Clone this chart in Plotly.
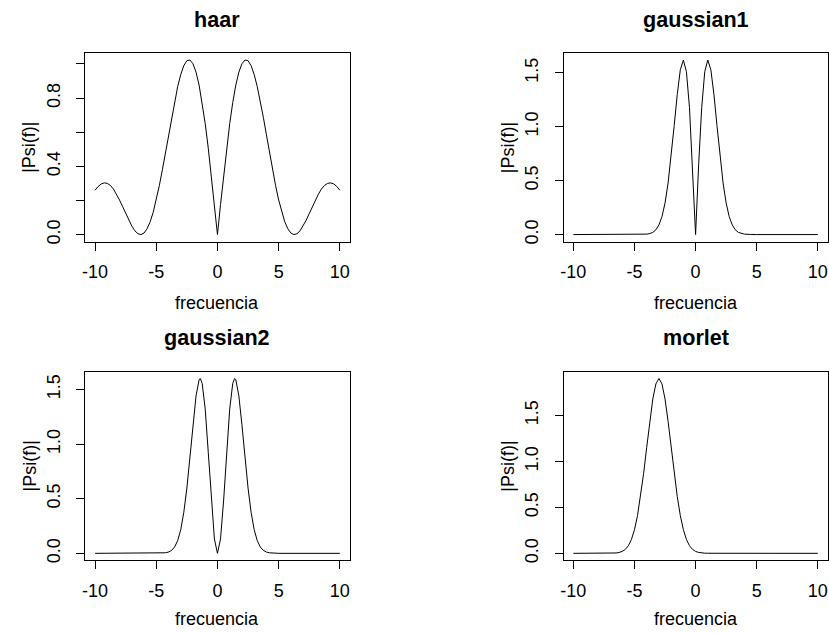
import plotly.graph_objects as go

FONT = "Liberation Sans, Arial, Helvetica, sans-serif"

# |Psi(f)| modulus of each wavelet's Fourier transform, sampled over frequency

haar_freq = [-10, -9.75, -9.5, -9.25, -9, -8.75, -8.5, -8.25, -8, -7.75, -7.5, -7.25,
             -7, -6.75, -6.5, -6.25, -6, -5.75, -5.5, -5.25, -5, -4.75, -4.5, -4.25,
             -4, -3.75, -3.5, -3.25, -3, -2.75, -2.5, -2.25, -2, -1.75, -1.5, -1.25,
             -1, -0.75, -0.5, -0.25, 0, 0.25, 0.5, 0.75, 1, 1.25, 1.5, 1.75, 2, 2.25,
             2.5, 2.75, 3, 3.25, 3.5, 3.75, 4, 4.25, 4.5, 4.75, 5, 5.25, 5.5, 5.75, 6,
             6.25, 6.5, 6.75, 7, 7.25, 7.5, 7.75, 8, 8.25, 8.5, 8.75, 9, 9.25, 9.5,
             9.75, 10]
haar_mod = [0.260, 0.282, 0.297, 0.303, 0.300, 0.288, 0.267, 0.237, 0.202, 0.164, 0.123,
            0.084, 0.050, 0.022, 0.005, 0.000, 0.009, 0.034, 0.075, 0.131, 0.203, 0.287,
            0.381, 0.481, 0.585, 0.687, 0.782, 0.868, 0.938, 0.990, 1.019, 1.023, 1.001,
            0.952, 0.876, 0.774, 0.650, 0.506, 0.346, 0.176, 0.000, 0.176, 0.346, 0.506,
            0.650, 0.774, 0.876, 0.952, 1.001, 1.023, 1.019, 0.990, 0.938, 0.868, 0.782,
            0.687, 0.585, 0.481, 0.381, 0.287, 0.203, 0.131, 0.075, 0.034, 0.009, 0.000,
            0.005, 0.022, 0.050, 0.084, 0.123, 0.164, 0.202, 0.237, 0.267, 0.288, 0.300,
            0.303, 0.297, 0.282, 0.260]

gauss1_freq = [-10, -5, -4.5, -4, -3.75, -3.5, -3.25, -3, -2.75, -2.5, -2.25, -2, -1.75,
               -1.5, -1.25, -1, -0.75, -0.5, -0.25, 0, 0.25, 0.5, 0.75, 1, 1.25, 1.5,
               1.75, 2, 2.25, 2.5, 2.75, 3, 3.25, 3.5, 3.75, 4, 4.5, 5, 10]
gauss1_mod = [0.000, 0.000, 0.001, 0.004, 0.009, 0.020, 0.044, 0.089, 0.167, 0.293, 0.478,
              0.723, 1.011, 1.300, 1.528, 1.619, 1.511, 1.178, 0.647, 0.000, 0.647, 1.178,
              1.511, 1.619, 1.528, 1.300, 1.011, 0.723, 0.478, 0.293, 0.167, 0.089, 0.044,
              0.020, 0.009, 0.004, 0.001, 0.000, 0.000]

gauss2_freq = [-10, -5, -4.5, -4.25, -4, -3.75, -3.5, -3.25, -3, -2.75, -2.5, -2.25, -2,
               -1.75, -1.5, -1.4, -1.25, -1, -0.75, -0.5, -0.25, 0, 0.25, 0.5, 0.75, 1,
               1.25, 1.4, 1.5, 1.75, 2, 2.25, 2.5, 2.75, 3, 3.25, 3.5, 3.75, 4, 4.25, 4.5,
               5, 10]
gauss2_mod = [0.000, 0.000, 0.002, 0.005, 0.012, 0.027, 0.058, 0.117, 0.217, 0.375, 0.597,
              0.876, 1.177, 1.441, 1.589, 1.600, 1.556, 1.319, 0.923, 0.480, 0.132, 0.000,
              0.132, 0.480, 0.923, 1.319, 1.556, 1.600, 1.589, 1.441, 1.177, 0.876, 0.597,
              0.375, 0.217, 0.117, 0.058, 0.027, 0.012, 0.005, 0.002, 0.000, 0.000]

morlet_freq = [-10, -7, -6.75, -6.5, -6.25, -6, -5.75, -5.5, -5.25, -5, -4.75, -4.5, -4.25,
               -4, -3.75, -3.5, -3.25, -3, -2.75, -2.5, -2.25, -2, -1.75, -1.5, -1.25, -1,
               -0.75, -0.5, -0.25, 0, 0.25, 0.5, 0.75, 1, 10]
morlet_mod = [0.000, 0.001, 0.002, 0.004, 0.010, 0.021, 0.043, 0.083, 0.151, 0.257, 0.411,
              0.617, 0.870, 1.152, 1.434, 1.677, 1.841, 1.900, 1.841, 1.677, 1.434, 1.152,
              0.870, 0.617, 0.411, 0.257, 0.151, 0.083, 0.043, 0.021, 0.010, 0.004, 0.002,
              0.001, 0.000]

titles = ["haar", "gaussian1", "gaussian2", "morlet"]
x_ticks = [-10, -5, 0, 5, 10]
x_tick_text = ["-10", "-5", "0", "5", "10"]
haar_y_ticks = [0.0, 0.2, 0.4, 0.6, 0.8, 1.0]
haar_y_text = ["0.0", "", "0.4", "", "0.8", ""]
gauss_y_ticks = [0.0, 0.5, 1.0, 1.5]
gauss_y_text = ["0.0", "0.5", "1.0", "1.5"]

series = [
    (haar_freq, haar_mod, haar_y_ticks, haar_y_text),
    (gauss1_freq, gauss1_mod, gauss_y_ticks, gauss_y_text),
    (gauss2_freq, gauss2_mod, gauss_y_ticks, gauss_y_text),
    (morlet_freq, morlet_mod, gauss_y_ticks, gauss_y_text),
]

# panel placement in pixels (829 x 634 page)
W, H = 829, 634
col_px = [(82.7, 348.3), (563.3, 828.6)]
row_px = [(53.3, 242.7), (373.3, 563.0)]
xlabel_gap = [62, 59]

fig = go.Figure()
annotations = []

for i, (freq, mod, yt, ytext) in enumerate(series):
    r, c = divmod(i, 2)
    n = "" if i == 0 else str(i + 1)
    x0, x1 = col_px[c]
    y0, y1 = row_px[r]
    xd = [x0 / W, x1 / W]
    yd = [1 - y1 / H, 1 - y0 / H]

    fig.add_trace(go.Scatter(
        x=freq, y=mod, mode="lines",
        line=dict(color="black", width=1),
        xaxis="x" + n, yaxis="y" + n, hoverinfo="skip",
    ))

    top = max(mod)
    pad = 0.04 * top
    axis_common = dict(
        showline=True, mirror=True, linecolor="black", linewidth=1,
        ticks="outside", ticklen=8, tickwidth=1, tickcolor="black",
        showgrid=False, zeroline=False,
        tickfont=dict(family=FONT, size=18, color="black"),
        fixedrange=True,
    )
    fig.update_layout(**{
        "xaxis" + n: dict(
            domain=xd, range=[-10.8, 10.8], anchor="y" + n,
            tickvals=x_ticks, ticktext=x_tick_text, ticklabelstandoff=6,
            **axis_common,
        ),
        "yaxis" + n: dict(
            domain=yd, range=[-pad, top + pad], anchor="x" + n,
            tickvals=yt, ticktext=ytext, tickangle=-90, ticklabelstandoff=9,
            **axis_common,
        ),
    })

    cx = (x0 + x1) / 2 / W
    # panel title
    annotations.append(dict(
        text="<b>" + titles[i] + "</b>", x=cx, y=1 - (y0 - 34) / H,
        xref="paper", yref="paper", xanchor="center", yanchor="middle",
        showarrow=False, font=dict(family=FONT, size=21.6, color="black"),
    ))
    # x-axis label
    annotations.append(dict(
        text="frecuencia", x=cx, y=1 - (y1 + xlabel_gap[r]) / H,
        xref="paper", yref="paper", xanchor="center", yanchor="middle",
        showarrow=False, font=dict(family=FONT, size=18, color="black"),
    ))
    # y-axis label
    annotations.append(dict(
        text="|Psi(f)|", x=(x0 - 56) / W, y=1 - (y0 + y1) / 2 / H,
        xref="paper", yref="paper", xanchor="center", yanchor="middle",
        textangle=-90, showarrow=False,
        font=dict(family=FONT, size=18, color="black"),
    ))

fig.update_layout(
    width=W, height=H,
    margin=dict(l=0, r=0, t=0, b=0),
    paper_bgcolor="white", plot_bgcolor="white",
    showlegend=False,
    font=dict(family=FONT, size=18, color="black"),
    annotations=annotations,
)

fig.write_html("out.html", config={"displayModeBar": False})
